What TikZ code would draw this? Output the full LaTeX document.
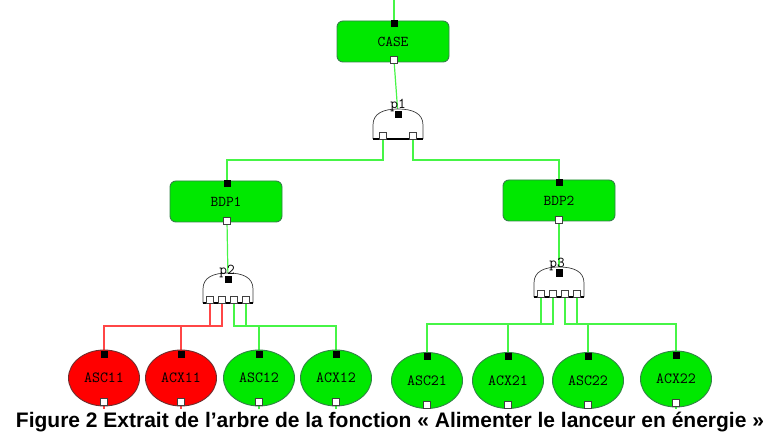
\documentclass[tikz,border=0pt]{standalone}
\usepackage{fontspec}
\setmainfont{Liberation Sans}
\usetikzlibrary{shapes.geometric,backgrounds}
\definecolor{boxgreen}{RGB}{0,232,0}
\definecolor{boxedge}{RGB}{50,130,70}
\definecolor{wiregreen}{RGB}{70,245,70}
\definecolor{wirered}{RGB}{255,70,70}
\definecolor{leafred}{RGB}{255,0,0}
\definecolor{rededge}{RGB}{110,45,45}
\definecolor{gateedge}{RGB}{60,60,60}
\tikzset{
  event/.style={draw=boxedge, fill=boxgreen, rounded corners=6pt, minimum width=112pt, minimum height=41pt, inner sep=0pt, line width=0.9pt, font=\ttfamily\fontsize{15}{15}\selectfont},
  leafg/.style={ellipse, draw=boxedge, fill=boxgreen, minimum width=71pt, minimum height=56pt, inner sep=0pt, line width=0.9pt, font=\ttfamily\fontsize{15.5}{15.5}\selectfont},
  leafr/.style={leafg, draw=rededge, fill=leafred},
  inport/.style={rectangle, fill=black, minimum size=7pt, inner sep=0pt},
  outport/.style={rectangle, draw=black!75, fill=white, minimum size=7pt, inner sep=0pt, line width=0.7pt},
  glabel/.style={anchor=base, inner sep=0pt, font=\ttfamily\fontsize{15}{15}\selectfont},
  gwire/.style={wiregreen, line width=1.2pt},
  rwire/.style={wirered, line width=1.2pt},
  gatepic/.pic={
    \draw[gateedge, line width=0.7pt, fill=white] (-25,0) -- (-25,-14) .. controls (-25,-26) and (-14,-30) .. (0,-30) .. controls (14,-30) and (25,-26) .. (25,-14) -- (25,0);
    \draw[black, line width=1.2pt] (-25,0) -- (25,0);
  },
  caption/.style={anchor=base, inner sep=0pt, font=\bfseries\fontsize{21}{21}\selectfont}
}
\begin{document}
\begin{tikzpicture}[x=1pt,y=-1pt]
\useasboundingbox (0,0) rectangle (772,433);
% levels
\coordinate (topend) at (394,0);
\coordinate (lvl1) at (0,160);
\coordinate (lvl2) at (0,326);
\coordinate (lvl3) at (0,324);
\coordinate (stub) at (0,409);
% CASE
\node[event] (case) at (393,41.5) {\raisebox{-4.5pt}{CASE}};
\node[inport] (casein) at (394,24) {};
\node[outport] (caseout) at (394,60) {};
% gate p1
\pic at (398,139) {gatepic};
\node[glabel] (p1lab) at (398,109) {p1};
\node[inport] (p1in) at (398,115) {};
\node[outport] (p1a) at (383,136) {};
\node[outport] (p1b) at (413,136) {};
% BDP1, BDP2
\node[event] (bdp1) at (226,201.5) {\raisebox{-4.5pt}{BDP1}};
\node[inport] (bdp1in) at (227,183.5) {};
\node[outport] (bdp1out) at (227,221) {};
\node[event] (bdp2) at (559,200.5) {\raisebox{-4.5pt}{BDP2}};
\node[inport] (bdp2in) at (559,182.5) {};
\node[outport] (bdp2out) at (559,220) {};
% gate p2
\pic at (228,303) {gatepic};
\node[glabel] (p2lab) at (227,274) {p2};
\node[inport] (p2in) at (228,279) {};
\node[outport] (p2a) at (210,300) {};
\node[outport] (p2b) at (222,300) {};
\node[outport] (p2c) at (234,300) {};
\node[outport] (p2d) at (246,300) {};
% gate p3
\pic at (559,297) {gatepic};
\node[glabel] (p3lab) at (557,268) {p3};
\node[inport] (p3in) at (559,273) {};
\node[outport] (p3a) at (541,294) {};
\node[outport] (p3b) at (553,294) {};
\node[outport] (p3c) at (565,294) {};
\node[outport] (p3d) at (577,294) {};
% leaves
\node[leafr] (asc11) at (104,378) {\raisebox{-4.5pt}{ASC11}};
\node[leafr] (acx11) at (181,378) {\raisebox{-4.5pt}{ACX11}};
\node[leafg] (asc12) at (259,378) {\raisebox{-4.5pt}{ASC12}};
\node[leafg] (acx12) at (336,378) {\raisebox{-4.5pt}{ACX12}};
\node[leafg] (asc21) at (427,380.5) {\raisebox{-4.5pt}{ASC21}};
\node[leafg] (acx21) at (508,380.5) {\raisebox{-4.5pt}{ACX21}};
\node[leafg] (asc22) at (588,380.5) {\raisebox{-4.5pt}{ASC22}};
\node[leafg] (acx22) at (676,379) {\raisebox{-4.5pt}{ACX22}};
\foreach \n in {asc11,acx11,asc12,acx12,asc21,acx21,asc22,acx22}{
  \node[inport] (\n in) at ([yshift=24pt]\n.center) {};
  \node[outport] (\n out) at ([yshift=-24pt]\n.center) {};
}
% caption
\node[caption] (cap) at (390,427.5) {Figure 2 Extrait de l’arbre de la fonction « Alimenter le lanceur en énergie »};
% wires
\begin{scope}[on background layer]
\draw[gwire] (topend) -- (casein);
\draw[gwire] (caseout) -- (p1in);
\draw[gwire] (p1a) -- (p1a |- lvl1) -| (bdp1in);
\draw[gwire] (p1b) -- (p1b |- lvl1) -| (bdp2in);
\draw[gwire] (bdp1out) -- (p2in);
\draw[gwire] (bdp2out) -- (p3in);
\draw[rwire] (p2a) -- (p2a |- lvl2) -| (asc11in);
\draw[rwire] (p2b) -- (p2b |- lvl2) -| (acx11in);
\draw[gwire] (p2c) -- (p2c |- lvl2) -| (asc12in);
\draw[gwire] (p2d) -- (p2d |- lvl2) -| (acx12in);
\draw[gwire] (p3a) -- (p3a |- lvl3) -| (asc21in);
\draw[gwire] (p3b) -- (p3b |- lvl3) -| (acx21in);
\draw[gwire] (p3c) -- (p3c |- lvl3) -| (asc22in);
\draw[gwire] (p3d) -- (p3d |- lvl3) -| (acx22in);
\draw[rwire] (asc11out) -- (asc11out |- stub);
\draw[rwire] (acx11out) -- (acx11out |- stub);
\foreach \n in {asc12,acx12,asc21,acx21,asc22,acx22}{
  \draw[gwire] (\n out) -- (\n out |- stub);
}
\end{scope}
\end{tikzpicture}
\end{document}
